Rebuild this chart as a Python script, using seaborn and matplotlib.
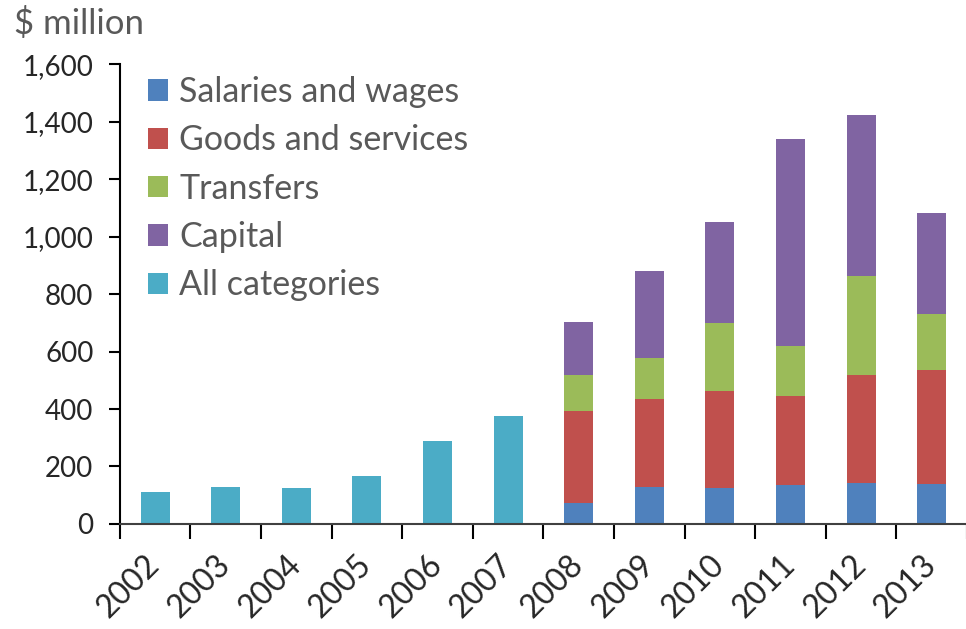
import numpy as np
import pandas as pd
import matplotlib
matplotlib.use("Agg")
import matplotlib.pyplot as plt
import seaborn as sns
from matplotlib.patches import Patch
from matplotlib.ticker import FuncFormatter, FixedLocator

# --- data ($ million) ---
years = ["2002", "2003", "2004", "2005", "2006", "2007",
         "2008", "2009", "2010", "2011", "2012", "2013"]
all_categories = [111, 129, 125, 167, 288, 376,
                  np.nan, np.nan, np.nan, np.nan, np.nan, np.nan]
salaries = [np.nan] * 6 + [72, 127, 124, 135, 142, 140]
goods = [np.nan] * 6 + [321, 309, 340, 311, 378, 394]
transfers = [np.nan] * 6 + [125, 140, 235, 174, 344, 198]
capital = [np.nan] * 6 + [186, 304, 352, 721, 560, 350]

series_names = ["Salaries and wages", "Goods and services", "Transfers",
                "Capital", "All categories"]
colors = ["#4F81BD", "#C0504D", "#9BBB59", "#8064A2", "#4BACC6"]

df = pd.DataFrame({
    "year": years,
    "all": all_categories,
    "sal": salaries,
    "goods": goods,
    "trans": transfers,
    "cap": capital,
})
# cumulative tops for stacking (draw tallest first, overlay the rest)
df["c1"] = df["sal"]
df["c2"] = df["c1"] + df["goods"]
df["c3"] = df["c2"] + df["trans"]
df["c4"] = df["c3"] + df["cap"]

sns.set_style("white")
plt.rcParams["font.family"] = ["Lato", "DejaVu Sans"]

fig = plt.figure(figsize=(9.66, 6.29), dpi=100)
ax = fig.add_axes([0.124, 0.167, 0.877, 0.731])

bar_w = 0.41
for col, c in [("c4", colors[3]), ("c3", colors[2]), ("c2", colors[1]),
               ("c1", colors[0]), ("all", colors[4])]:
    sns.barplot(data=df, x="year", y=col, order=years, color=c,
                width=bar_w, saturation=1, errorbar=None, linewidth=0, ax=ax)

ax.set_xlim(-0.5, 11.5)
ax.set_ylim(0, 1600)
ax.set_yticks(range(0, 1601, 200))
ax.yaxis.set_major_formatter(FuncFormatter(lambda v, p: f"{int(v):,}"))
ax.set_xlabel("")
ax.set_ylabel("")

# ticks between categories, labels centred under bars
ax.xaxis.set_major_locator(FixedLocator(np.arange(-0.5, 11.6, 1)))
ax.xaxis.set_minor_locator(FixedLocator(np.arange(0, 12, 1)))
ax.set_xticklabels([], minor=False)
ax.set_xticklabels(years, minor=True, rotation=45, ha="right",
                   rotation_mode="anchor", va="center")
ax.tick_params(axis="x", which="major", direction="out", length=11,
               width=1.5, color="black", bottom=True)
ax.tick_params(axis="x", which="minor", length=0, pad=26, labelsize=23)
ax.tick_params(axis="y", direction="out", length=8, width=1.5,
               color="black", left=True, labelsize=20, pad=11)

for side in ["top", "right"]:
    ax.spines[side].set_visible(False)
ax.spines["left"].set_color("black")
ax.spines["left"].set_linewidth(1.5)
ax.spines["bottom"].set_color("#404040")
ax.spines["bottom"].set_linewidth(1.5)

handles = [Patch(facecolor=c, edgecolor="none") for c in colors]
leg = ax.legend(handles, series_names, loc="upper left",
                bbox_to_anchor=(0.005, 1.026), frameon=False, fontsize=24.5,
                handlelength=0.6, handleheight=0.6, handletextpad=0.32,
                labelspacing=0.48, borderaxespad=0.3)
for t in leg.get_texts():
    t.set_color("#595959")

fig.text(0.015, 0.962, "$ million", fontsize=25, color="#595959",
         ha="left", va="center")

fig.savefig("out.png", dpi=100)
